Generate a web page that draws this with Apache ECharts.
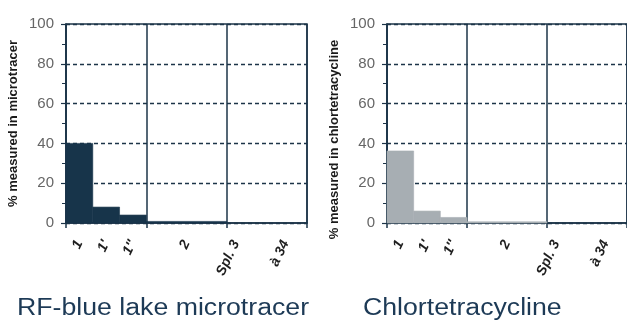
<!DOCTYPE html>
<html><head><meta charset="utf-8">
<script src="https://cdn.jsdelivr.net/npm/echarts@6/dist/echarts.min.js"></script>
<style>html,body{margin:0;padding:0;background:#fff}#c{width:627px;height:322px}</style>
</head><body><div id="c"></div>
<script>
// bins: start/end along the x scale (sections of 3 units each)
const binStart = [0, 1, 2, 3];
const binEnd = [1, 2, 3, 6];
const microtracer = [40, 8, 4, 0.8];
const chlortetracycline = [36.2, 6, 2.8, 0.6];
const xLabels = ['1', "1'", "1''", '2', 'Spl. 3', 'à 34'];
const xLabelPos = [0.5, 1.5, 2.5, 4.5, 6.35, 8.2];
const yTicks = [0, 20, 40, 60, 80, 100];
const titles = ['RF-blue lake microtracer', 'Chlortetracycline'];
const yNames = ['% measured in microtracer', '% measured in chlortetracycline'];

const axisColor = '#1c3448';
const colors = ['#17344a', '#a7aeb3'];
const grids = [{left: 66, top: 24, width: 241, height: 199},
               {left: 387, top: 24, width: 242, height: 199}];

function mk(vals) { return vals.map((v, i) => [binStart[i], binEnd[i], v]); }

const chart = echarts.init(document.getElementById('c'), null, {renderer: 'canvas'});
const xAxes = [], yAxes = [], series = [], graphic = [];
[microtracer, chlortetracycline].forEach((vals, k) => {
  xAxes.push({
    type: 'value', gridIndex: k, min: 0, max: 9, interval: 3,
    axisLine: {show: true, lineStyle: {color: axisColor, width: 1.5}},
    axisTick: {show: true, length: 5, lineStyle: {color: axisColor, width: 1.5}},
    splitLine: {show: true, lineStyle: {color: axisColor, width: 1.5, type: 'solid'}},
    axisLabel: {
      customValues: xLabelPos, rotate: 65, margin: 18,
      fontSize: 14, fontWeight: 'bold', fontStyle: 'italic', color: '#1e1e1e',
      fontFamily: 'Liberation Sans',
      formatter: v => { const i = xLabelPos.findIndex(p => Math.abs(p - v) < 1e-6); return i >= 0 ? xLabels[i] : ''; }
    }
  });
  yAxes.push({
    type: 'value', gridIndex: k, min: 0, max: 100, interval: 20,
    name: yNames[k], nameLocation: 'middle', nameGap: 46,
    nameTextStyle: {fontSize: 13, fontWeight: 'bold', color: '#1a1a1a', fontFamily: 'Liberation Sans',
      padding: k === 0 ? [0, 0, 0, 0] : [0, 32, 0, 0]},
    axisLine: {show: true, lineStyle: {color: axisColor, width: 1.5}},
    axisTick: {show: true, length: 5, inside: false, lineStyle: {color: axisColor, width: 1.2}},
    minorTick: {show: true, splitNumber: 2, length: 4, lineStyle: {color: axisColor, width: 1}},
    splitLine: {show: true, lineStyle: {color: axisColor, width: 1.4, type: [4, 3]}},
    axisLabel: {fontSize: 15, color: '#666', margin: 12, fontFamily: 'Liberation Sans',
      formatter: v => yTicks.includes(v) ? String(v) : ''}
  });
  series.push({
    type: 'custom', xAxisIndex: k, yAxisIndex: k, data: mk(vals),
    encode: {x: [0, 1], y: 2},
    renderItem: (params, api) => {
      const p0 = api.coord([api.value(0), api.value(2)]);
      const p1 = api.coord([api.value(1), 0]);
      return {type: 'rect', shape: {x: p0[0], y: p0[1], width: p1[0] - p0[0], height: p1[1] - p0[1]},
              style: {fill: colors[k], stroke: colors[k], lineWidth: 0.6}};
    }
  });
  graphic.push({type: 'text', x: k === 0 ? 17 : 363, y: 297, scaleX: 1.16,
    style: {text: titles[k], fontSize: 23, fill: '#1d3a56', fontFamily: 'Liberation Sans', verticalAlign: 'top'}});
});

chart.setOption({
  animation: false,
  graphic: graphic,
  grid: grids.map(g => Object.assign({show: true, borderColor: axisColor, borderWidth: 1.5, backgroundColor: 'transparent'}, g)),
  xAxis: xAxes, yAxis: yAxes, series: series
});
</script></body></html>
